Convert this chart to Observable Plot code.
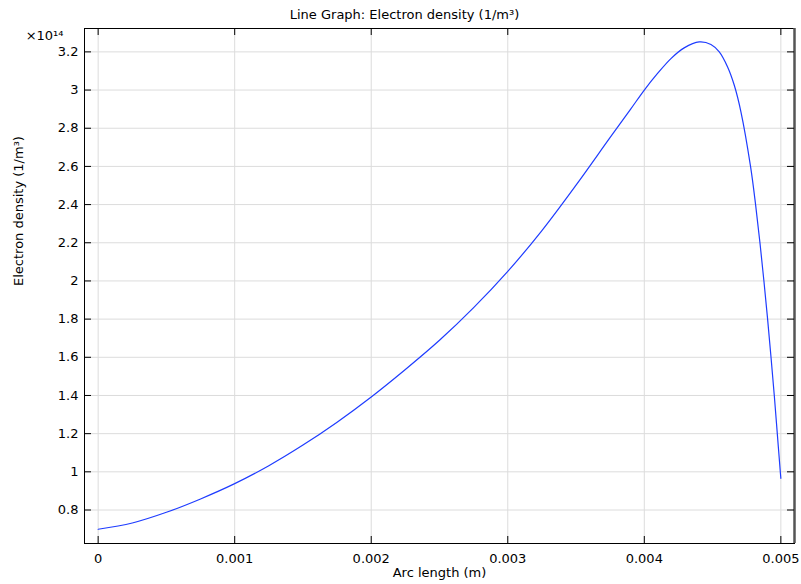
<!DOCTYPE html>
<html>
<head>
<meta charset="utf-8">
<script src="https://cdn.jsdelivr.net/npm/d3@7"></script>
<script src="https://cdn.jsdelivr.net/npm/@observablehq/plot@0.6"></script>
<style>
  html, body { margin: 0; padding: 0; background: #fff; }
</style>
</head>
<body>
<div id="chart"></div>
<script>
// Arc length (m)
const arcLength = [0, 0.00025, 0.0005, 0.00075, 0.001, 0.00125, 0.0015, 0.00175, 0.002, 0.00225, 0.0025, 0.00275, 0.003, 0.00325, 0.0035, 0.00375, 0.0039, 0.004, 0.004097, 0.004195, 0.004292, 0.004402, 0.004488, 0.004549, 0.00461, 0.004659, 0.004708, 0.004778, 0.004815, 0.004847, 0.004876, 0.004903, 0.004928, 0.004952, 0.004974, 0.004996, 0.005];
// Electron density (×10^14 1/m^3)
const density = [0.699, 0.732, 0.788, 0.858, 0.938, 1.032, 1.14, 1.26, 1.392, 1.536, 1.689, 1.86, 2.05, 2.264, 2.502, 2.752, 2.9, 3.0, 3.087, 3.165, 3.221, 3.252, 3.239, 3.2, 3.121, 3.025, 2.885, 2.6, 2.4, 2.2, 2.0, 1.8, 1.6, 1.4, 1.2, 1.0, 0.966];

const xTicks = [0, 0.001, 0.002, 0.003, 0.004, 0.005];
const yTicks = [0.8, 1, 1.2, 1.4, 1.6, 1.8, 2, 2.2, 2.4, 2.6, 2.8, 3, 3.2];
const xTickLabels = ["0", "0.001", "0.002", "0.003", "0.004", "0.005"];
const yTickLabels = ["0.8", "1", "1.2", "1.4", "1.6", "1.8", "2", "2.2", "2.4", "2.6", "2.8", "3", "3.2"];

const titleText = "Line Graph: Electron density (1/m³)";
const xLabel = "Arc length (m)";
const yLabel = "Electron density (1/m³)";
const exponentLabel = "×10¹⁴";

const data = arcLength.map((x, i) => ({x, y: density[i]}));

const W = 801, H = 584;
const mL = 84, mR = 7, mT = 28, mB = 41;
const fw = W - mL - mR, fh = H - mT - mB;
const tick = 7;
const xDomain = [-0.0001, 0.0051];
const yDomain = [0.6245, 3.3225];

const chart = Plot.plot({
  width: W,
  height: H,
  marginLeft: mL, marginRight: mR, marginTop: mT, marginBottom: mB,
  style: {fontFamily: "DejaVu Sans", fontSize: "13px", background: "#fff", color: "#000", overflow: "visible"},
  x: {domain: xDomain, axis: null},
  y: {domain: yDomain, axis: null},
  marks: [
    Plot.gridX(xTicks, {stroke: "#dcdcdc", strokeOpacity: 1}),
    Plot.gridY(yTicks, {stroke: "#dcdcdc", strokeOpacity: 1}),
    Plot.line(data, {x: "x", y: "y", stroke: "#1e3cff", strokeWidth: 1.2, curve: "catmull-rom"}),
    Plot.frame({stroke: "#000", strokeWidth: 1}),
    Plot.ruleX([xDomain[1]], {stroke: "#555", strokeWidth: 2.5}),
    // inward ticks
    Plot.ruleX(xTicks, {insetTop: fh - tick, stroke: "#000"}),
    Plot.ruleX(xTicks, {insetBottom: fh - tick, stroke: "#000"}),
    Plot.ruleY(yTicks, {insetRight: fw - tick, stroke: "#000"}),
    Plot.ruleY(yTicks, {insetLeft: fw - tick, stroke: "#000"}),
    // tick labels
    Plot.axisX(xTicks, {anchor: "bottom", tickSize: 0, tickPadding: 10, tickFormat: (d, i) => xTickLabels[i], fontSize: 13, label: null}),
    Plot.axisY(yTicks, {anchor: "left", tickSize: 0, tickPadding: 6, tickFormat: (d, i) => yTickLabels[i], fontSize: 13, label: null}),
    // titles
    Plot.text([titleText], {frameAnchor: "top", dy: -19, dx: -35, text: d => d, fontSize: 13}),
    Plot.text([xLabel], {frameAnchor: "bottom", dy: 33, text: d => d, fontSize: 13}),
    Plot.text([yLabel], {frameAnchor: "left", dx: -66, rotate: -90, text: d => d, fontSize: 13}),
    Plot.text([exponentLabel], {frameAnchor: "top-left", dx: -21, dy: 2, textAnchor: "end", text: d => d, fontSize: 13})
  ]
});
document.getElementById("chart").appendChild(chart);
</script>
</body>
</html>
